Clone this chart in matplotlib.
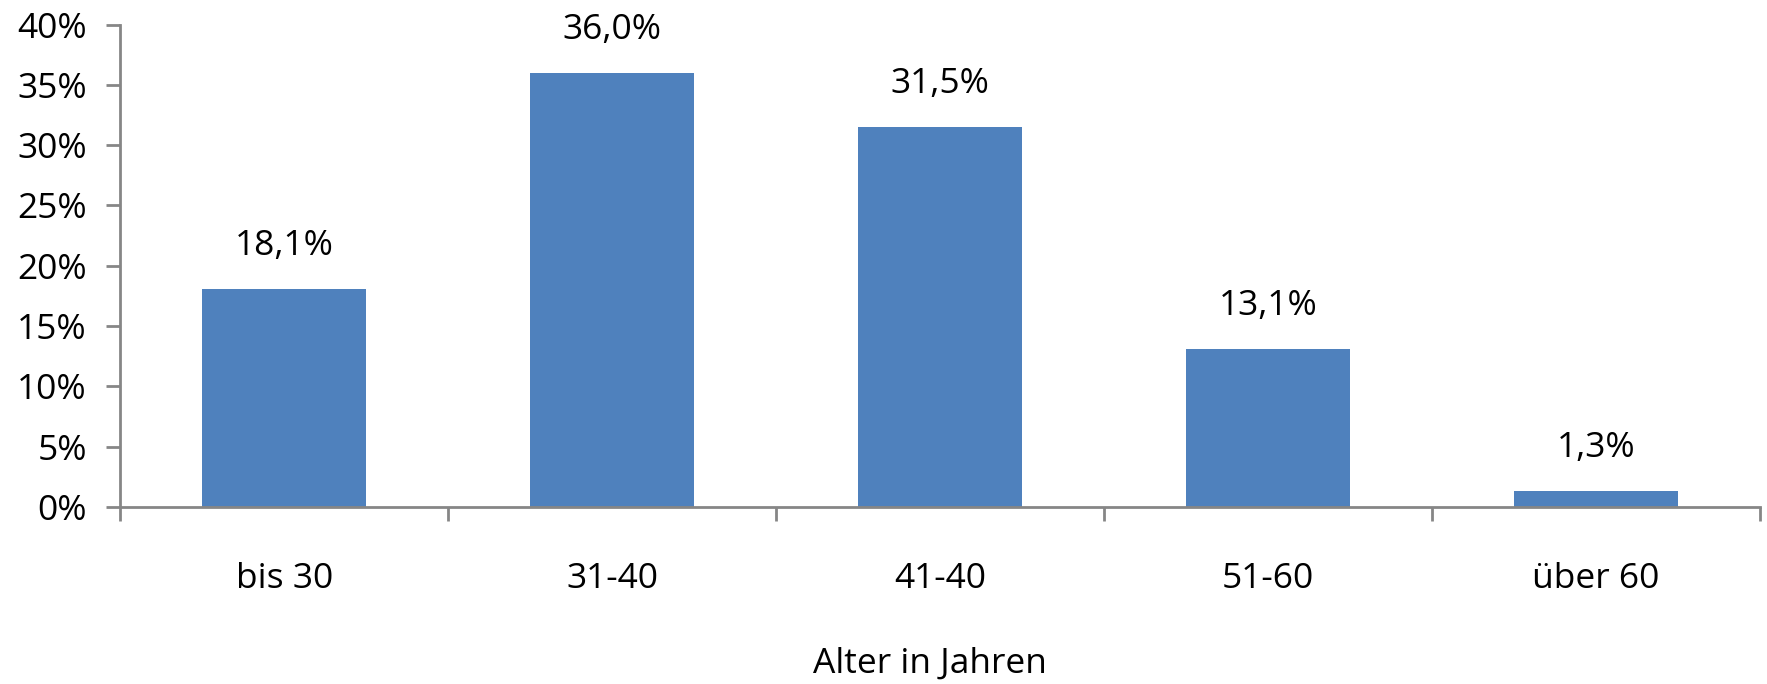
import numpy as np
import matplotlib
matplotlib.use('Agg')
import matplotlib.pyplot as plt
from matplotlib.ticker import FuncFormatter

# Altersverteilung
categories = ['bis 30', '31-40', '41-40', '51-60', 'über 60']
values = [18.1, 36.0, 31.5, 13.1, 1.3]
value_labels = ['18,1%', '36,0%', '31,5%', '13,1%', '1,3%']
yticks = [0, 5, 10, 15, 20, 25, 30, 35, 40]

plt.rcParams['font.family'] = ['Open Sans', 'DejaVu Sans']
axis_grey = '#868686'
bar_blue = '#4F81BD'
fs = 25.5

fig = plt.figure(figsize=(17.67, 6.84), dpi=100)
ax = fig.add_axes([0.068, 0.259, 0.928, 0.705])

x = np.arange(len(categories))
ax.bar(x, values, width=0.5, color=bar_blue, zorder=2)

for xi, v, lab in zip(x, values, value_labels):
    ax.annotate(lab, (xi, v), xytext=(0, 31), textcoords='offset points',
                ha='center', va='center', fontsize=fs)

ax.set_xlim(-0.5, len(categories) - 0.5)
ax.set_ylim(0, 40)
ax.set_yticks(yticks)
ax.yaxis.set_major_formatter(FuncFormatter(lambda v, p: '%d%%' % v))

# category ticks sit between the bars
ax.set_xticks(np.arange(-0.5, len(categories), 1.0))
ax.set_xticklabels([])
ax.set_xticks(x, minor=True)
ax.set_xticklabels(categories, minor=True)
ax.tick_params(axis='x', which='major', direction='out', length=10, width=2, color=axis_grey)
ax.tick_params(axis='x', which='minor', length=0, pad=39.5, labelsize=fs)
ax.tick_params(axis='y', direction='out', length=10, width=2, color=axis_grey, pad=14, labelsize=fs)

for s in ['top', 'right']:
    ax.spines[s].set_visible(False)
for s in ['left', 'bottom']:
    ax.spines[s].set_color(axis_grey)
    ax.spines[s].set_linewidth(2)

ax.set_xlabel('Alter in Jahren', fontsize=fs, labelpad=37)
ax.xaxis.label.set_x(0.494)

fig.savefig('out.png', dpi=100)
